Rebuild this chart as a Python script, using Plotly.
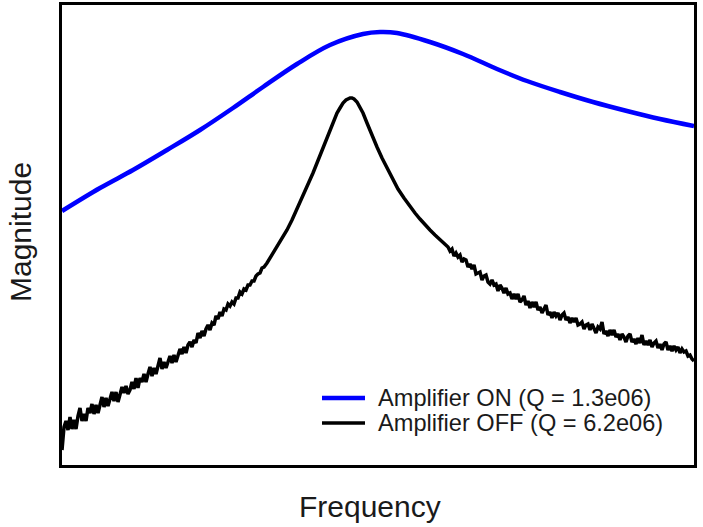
import plotly.graph_objects as go

# Amplifier ON (blue) - frequency (arb.) and magnitude (arb.)
freq_on = [62, 100, 133, 167, 200, 233, 263, 297, 330, 363, 380, 397, 430, 463, 497,
           527, 560, 593, 627, 660, 694]
mag_on = [254, 277, 295, 315, 335, 357, 378, 401, 420, 431, 433, 432, 423, 411, 396,
          384, 373, 363, 354, 346, 339]

# Amplifier OFF (black) - noisy measured trace
freq_off = [62, 63, 64, 66, 68, 70, 72, 74, 76, 78, 80, 82, 84, 86, 88, 90, 92, 94, 96, 98,
            100, 102, 104, 106, 108, 110, 112, 114, 116, 118, 120, 122, 124, 126, 128, 130,
            132, 134, 136, 138, 140, 142, 144, 146, 148, 150, 152, 154, 156, 158, 160, 162,
            164, 166, 168, 170, 172, 174, 176, 178, 180, 182, 184, 186, 188, 190, 192, 194,
            196, 198, 200, 202, 204, 206, 208, 210, 212, 214, 216, 218, 220, 222, 224, 226,
            228, 230, 232, 234, 236, 238, 240, 242, 244, 246, 248, 250, 252, 254, 256, 258,
            260, 262, 264,
            267, 272, 277, 282, 287, 292, 297, 303, 308, 313, 317, 322, 326, 330, 334,
            337, 340, 343, 346, 348, 350, 352, 354, 357, 360, 363, 367, 371, 377, 382,
            387, 393, 398, 404, 410, 415, 420, 425, 430, 435, 440, 445,
            448, 450, 452, 454, 456, 458, 460, 462, 464, 466, 468, 470, 472, 474, 476, 478,
            480, 482, 484, 486, 488, 490, 492, 494, 496, 498, 500, 502, 504, 506, 508, 510,
            512, 514, 516, 518, 520, 522, 524, 526, 528, 530, 532, 534, 536, 538, 540, 542,
            544, 546, 548, 550, 552, 554, 556, 558, 560, 562, 564, 566, 568, 570, 572, 574,
            576, 578, 580, 582, 584, 586, 588, 590, 592, 594, 596, 598, 600, 602, 604, 606,
            608, 610, 612, 614, 616, 618, 620, 622, 624, 626, 628, 630, 632, 634, 636, 638,
            640, 642, 644, 646, 648, 650, 652, 654, 656, 658, 660, 662, 664, 666, 668, 670,
            672, 674, 676, 678, 680, 682, 684, 686, 688, 690, 692, 694]
mag_off = [15, 28, 38, 44, 35, 48, 36, 45, 36, 49, 57, 44, 51, 44, 57, 52, 61, 51, 60, 52,
           61, 68, 58, 67, 59, 65, 73, 64, 73, 63, 72, 78, 72, 79, 71, 75,
           83, 76, 87, 77, 87, 83, 91, 83, 91, 98, 89, 97, 91, 98, 107, 96,
           103, 97, 104, 109, 102, 110, 103, 111, 116, 111, 118, 112, 120, 123, 118, 125,
           122, 132, 127, 134, 129, 136, 140, 135, 142, 140, 149, 146, 153, 149, 156, 155,
           161, 159, 163, 161, 167, 167, 173, 171, 176, 175, 180, 180, 184, 184, 189, 191,
           192, 197, 198,
           202, 210, 219, 227, 235, 245, 256, 268, 280, 292, 302, 314, 325, 335, 345,
           352, 357, 362, 365, 366.5, 367, 367, 366, 363, 358, 352, 342, 332, 318, 307,
           297, 285, 276, 267, 258, 252, 246, 240, 235, 230, 225, 220,
           218, 214, 216, 209, 212, 208, 210, 203, 206, 205, 198, 201, 196, 200, 191, 192,
           193, 185, 189, 190, 183, 181, 185, 180, 181, 174, 180, 177, 172, 177, 171, 172,
           166, 171, 166, 171, 163, 165, 169, 160, 164, 157, 163, 158, 163, 155, 158, 152,
           157, 160, 150, 153, 147, 153, 149, 152, 145, 150, 152, 145, 148, 142, 147, 143,
           147, 140, 141, 143, 136, 140, 141, 135, 141, 136, 132, 138, 136, 143, 131, 134,
           129, 135, 130, 135, 128, 131, 125, 131, 128, 123, 129, 131, 123, 126, 121, 127,
           122, 130, 120, 124, 120, 125, 118, 122, 124, 117, 121, 115, 121, 123, 115, 119,
           114, 119, 115, 118, 112, 116, 113, 114, 109, 110, 106, 104]

label_on = "Amplifier ON (Q = 1.3e06)"
label_off = "Amplifier OFF (Q = 6.2e06)"
x_title = "Frequency"
y_title = "Magnitude"

color_on = "#0000FF"
color_off = "#000000"
font_family = "Liberation Sans, Arial, Helvetica, sans-serif"
text_color = "#1a1a1a"

fig = go.Figure()
fig.add_trace(go.Scatter(x=freq_on, y=mag_on, mode="lines", name=label_on,
                         line=dict(color=color_on, width=4.5, shape="spline", smoothing=1.0)))
fig.add_trace(go.Scatter(x=freq_off, y=mag_off, mode="lines", name=label_off,
                         line=dict(color=color_off, width=3.5)))

# Plot area in pixels: x 62..694, y 5..465
W, H = 703, 527
L, R, T, B = 62, 9, 5, 62
pw, ph = W - L - R, H - T - B


def px_x(p):
    return (p - L) / pw


def px_y(p):
    return (H - B - p) / ph


# Legend (drawn manually so the sample lines and spacing match)
legend_rows = [(label_on, color_on, 4.5, 398), (label_off, color_off, 3.5, 423)]
shapes, annotations = [], []
for text, col, wdt, yy in legend_rows:
    shapes.append(dict(type="line", xref="paper", yref="paper",
                       x0=px_x(322), x1=px_x(365), y0=px_y(yy), y1=px_y(yy),
                       line=dict(color=col, width=wdt)))
    annotations.append(dict(text=text, xref="paper", yref="paper", x=px_x(376), y=px_y(yy),
                            xanchor="left", yanchor="middle", showarrow=False,
                            font=dict(size=23.6, family=font_family, color=text_color)))

annotations.append(dict(text=x_title, xref="paper", yref="paper", x=px_x(370), y=px_y(506),
                        xanchor="center", yanchor="middle", showarrow=False,
                        font=dict(size=30, family=font_family, color=text_color)))
annotations.append(dict(text=y_title, xref="paper", yref="paper", x=px_x(20), y=px_y(232),
                        xanchor="center", yanchor="middle", showarrow=False, textangle=-90,
                        font=dict(size=30, family=font_family, color=text_color)))

fig.update_layout(
    width=W, height=H,
    margin=dict(l=L, r=R, t=T, b=B),
    paper_bgcolor="white", plot_bgcolor="white",
    font=dict(family=font_family, color=text_color),
    showlegend=False,
    shapes=shapes, annotations=annotations,
    xaxis=dict(range=[62, 694], showticklabels=False, ticks="", showgrid=False,
               zeroline=False, showline=True, mirror=True, linecolor="black", linewidth=3,
               automargin=False),
    yaxis=dict(range=[0, 460], showticklabels=False, ticks="", showgrid=False,
               zeroline=False, showline=True, mirror=True, linecolor="black", linewidth=3,
               automargin=False),
)

fig.write_html("out.html", config={"displayModeBar": False},
               post_script="document.body.style.margin='0';document.body.style.padding='0';")
